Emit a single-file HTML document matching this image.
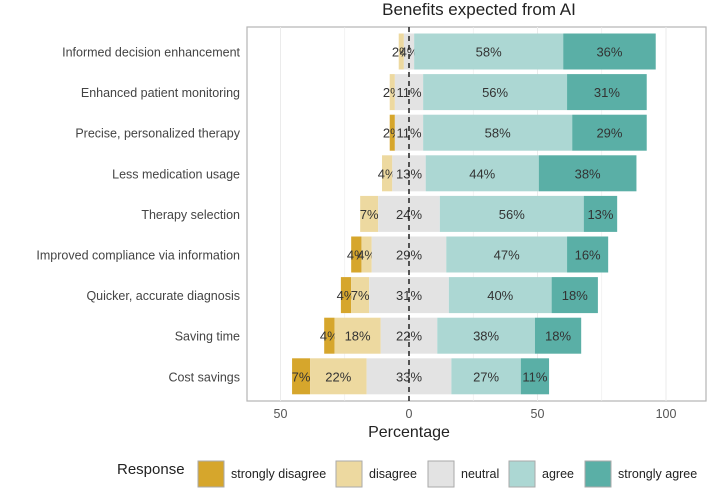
<!DOCTYPE html>
<html><head><meta charset="utf-8"><style>
body{margin:0;background:#fff;font-family:"Liberation Sans",sans-serif;}
svg text{font-family:"Liberation Sans",sans-serif;}
</style></head><body>
<svg width="709" height="489" id="chart">
<text x="479" y="15" text-anchor="middle" font-size="17" fill="#222" font-family="DejaVu Sans">Benefits expected from AI</text>
<g id="plot"></g>
<text x="409" y="437" text-anchor="middle" font-size="16" fill="#222">Percentage</text>
<g id="legend"></g>
</svg>
<script>
const categories=["Informed decision enhancement","Enhanced patient monitoring","Precise, personalized therapy","Less medication usage","Therapy selection","Improved compliance via information","Quicker, accurate diagnosis","Saving time","Cost savings"];
const stronglyDisagree=[0,0,2,0,0,4,4,4,7];
const disagree=[2,2,0,4,7,4,7,18,22];
const neutral=[4,11,11,13,24,29,31,22,33];
const agree=[58,56,58,44,56,47,40,38,27];
const stronglyAgree=[36,31,29,38,13,16,18,18,11];
const ticks=[-50,0,50,100];
const tickLabels=["50","0","50","100"];
const levels=["strongly disagree","disagree","neutral","agree","strongly agree"];
const colors=["#d6a62c","#edd9a0","#e3e3e3","#acd7d3","#5aafa6"];
const ns="http://www.w3.org/2000/svg";
const X=v=>409+v*2.57;
const rowY=i=>51.5+i*40.6;
const plot=document.getElementById('plot');
function mk(tag,attrs,parent){const e=document.createElementNS(ns,tag);for(const k in attrs)e.setAttribute(k,attrs[k]);parent.appendChild(e);return e;}
const frame=mk('rect',{x:247,y:27,width:459,height:374,fill:'#fff',stroke:'#b5b5b5','stroke-width':1.2},plot);


[-25,25,75].concat(ticks).forEach(t=>{const g=mk('line',{x1:X(t),x2:X(t),y1:27,y2:401,stroke:'#ebebeb','stroke-width':t%50===0?1:0.6},plot);

});
categories.forEach((c,i)=>{
 const vals=[stronglyDisagree[i],disagree[i],neutral[i],agree[i],stronglyAgree[i]];
 let start=-(vals[0]+vals[1]+vals[2]/2);
 const y=rowY(i);
 vals.forEach((v,k)=>{
  if(v>0){
   const r=mk('rect',{x:X(start),y:y-18,width:v*2.57,height:36,fill:colors[k]},plot);
   
   
   const t=mk('text',{x:X(start+v/2),y:y+5,'text-anchor':'middle','font-size':13,fill:'#333'},plot);
   t.textContent=v+'%';
   
   
  }
  start+=v;
 });
 const l=mk('text',{x:240,y:y+5,'text-anchor':'end','font-size':12.5,fill:'#444'},plot);
 l.textContent=c;
 
 
});
const zl=mk('line',{x1:X(0),x2:X(0),y1:27,y2:401,stroke:'#222','stroke-width':1.5,'stroke-dasharray':'5,4'},plot);


ticks.forEach((t,i)=>{const tx=mk('text',{x:X(t),y:418,'text-anchor':'middle','font-size':12.5,fill:'#555'},plot);
tx.textContent=tickLabels[i];

});
const lg=document.getElementById('legend');
const lt=mk('text',{x:117,y:474,'font-size':15,fill:'#222'},lg);lt.textContent='Response';


const kx=[198,336,428,509,585];
levels.forEach((lv,k)=>{
 const r=mk('rect',{x:kx[k],y:461,width:26,height:26,fill:colors[k],stroke:'#aaa','stroke-width':1},lg);
 
 
 const t=mk('text',{x:kx[k]+33,y:478,'font-size':12.5,fill:'#222'},lg);t.textContent=lv;
 
 
});
</script>
</body></html>
